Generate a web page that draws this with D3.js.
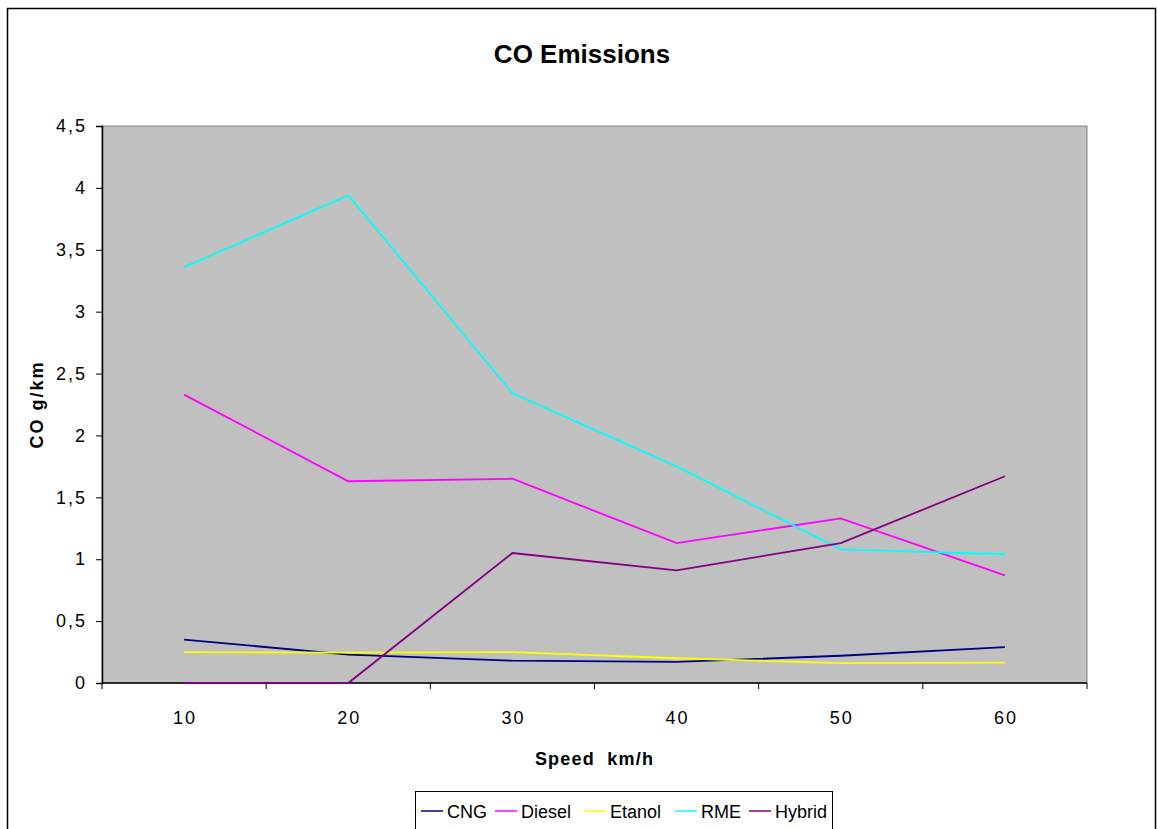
<!DOCTYPE html>
<html>
<head>
<meta charset="utf-8">
<script src="https://cdn.jsdelivr.net/npm/d3@7"></script>
<style>
  html, body { margin: 0; padding: 0; background: #fff; }
  svg { display: block; font-family: "Liberation Sans", Arial, sans-serif; }
</style>
</head>
<body>
<svg id="chart" width="1157" height="829"></svg>
<script>
// Speed categories (km/h)
const speeds = ["10", "20", "30", "40", "50", "60"];

// CO emissions per fuel, g/km
const cng    = [0.35, 0.23, 0.18, 0.17, 0.22, 0.29];
const diesel = [2.33, 1.63, 1.65, 1.13, 1.33, 0.87];
const etanol = [0.25, 0.245, 0.25, 0.20, 0.16, 0.165];
const rme    = [3.36, 3.94, 2.34, 1.75, 1.08, 1.04];
const hybrid = [0, 0, 1.05, 0.91, 1.13, 1.67];

const yTicks = [0, 0.5, 1, 1.5, 2, 2.5, 3, 3.5, 4, 4.5];

const series = [
  { name: "CNG",    values: cng,    color: "#000080" },
  { name: "Diesel", values: diesel, color: "#FF00FF" },
  { name: "Etanol", values: etanol, color: "#FFFF00" },
  { name: "RME",    values: rme,    color: "#00FFFF" },
  { name: "Hybrid", values: hybrid, color: "#800080" }
];

const svg = d3.select("#chart");
const plot = { left: 102, right: 1087, top: 126, bottom: 683 };

// Outer chart frame
svg.append("rect")
  .attr("x", 7.5).attr("y", 8.5)
  .attr("width", 1148).attr("height", 840)
  .attr("fill", "#fff").attr("stroke", "#000").attr("stroke-width", 1.5);

const x = d3.scaleBand().domain(speeds).range([plot.left, plot.right]);
const y = d3.scaleLinear().domain([0, 4.5]).range([plot.bottom, plot.top]);

// Plot area background
svg.append("rect")
  .attr("x", plot.left).attr("y", plot.top)
  .attr("width", plot.right - plot.left).attr("height", plot.bottom - plot.top)
  .attr("fill", "#C0C0C0").attr("stroke", "#808080").attr("stroke-width", 1);

// Y axis
const yAxis = svg.append("g")
  .attr("transform", `translate(${plot.left},0)`)
  .call(d3.axisLeft(y).tickValues(yTicks).tickSize(6).tickPadding(9)
    .tickFormat(d => d3.format("")(d).replace(".", ",")));
yAxis.select(".domain").attr("stroke", "#000").attr("stroke-width", 1.5);
yAxis.selectAll(".tick line").attr("stroke", "#000");
yAxis.selectAll(".tick text")
  .attr("font-size", 18).attr("fill", "#000")
  .attr("font-family", "Liberation Sans, Arial, sans-serif")
  .attr("letter-spacing", "2px");

// X axis with ticks on the category boundaries
const xAxis = svg.append("g")
  .attr("transform", `translate(0,${plot.bottom})`);
xAxis.append("line")
  .attr("x1", plot.left).attr("x2", plot.right)
  .attr("stroke", "#000").attr("stroke-width", 1.5);
const boundaries = speeds.map(s => x(s)).concat([x.range()[1]]);
xAxis.selectAll("line.tk").data(boundaries).join("line")
  .attr("class", "tk")
  .attr("x1", d => d).attr("x2", d => d)
  .attr("y1", 0).attr("y2", 6)
  .attr("stroke", "#000");
xAxis.selectAll("text").data(speeds).join("text")
  .attr("x", d => x(d) + x.bandwidth() / 2 + 1)
  .attr("y", 41)
  .attr("text-anchor", "middle")
  .attr("font-size", 18)
  .attr("letter-spacing", "2px")
  .attr("fill", "#000")
  .text(d => d);

// Series lines
const line = d3.line()
  .x((d, i) => x(speeds[i]) + x.bandwidth() / 2)
  .y(d => y(d));
svg.append("g").selectAll("path").data(series).join("path")
  .attr("d", d => line(d.values))
  .attr("fill", "none")
  .attr("stroke", d => d.color)
  .attr("stroke-width", 1.8);

// Titles
svg.append("text")
  .attr("x", 582).attr("y", 63)
  .attr("text-anchor", "middle")
  .attr("font-size", 26).attr("font-weight", "bold")
  .text("CO Emissions");

svg.append("text")
  .attr("x", (plot.left + plot.right) / 2).attr("y", 765)
  .attr("text-anchor", "middle")
  .attr("font-size", 18).attr("font-weight", "bold")
  .attr("letter-spacing", "1.2px")
  .attr("xml:space", "preserve")
  .style("white-space", "pre")
  .text("Speed  km/h");

svg.append("text")
  .attr("transform", `translate(43,${(plot.top + plot.bottom) / 2}) rotate(-90)`)
  .attr("text-anchor", "middle")
  .attr("font-size", 18).attr("font-weight", "bold")
  .attr("letter-spacing", "2px")
  .text("CO g/km");

// Legend
const legend = svg.append("g");
legend.append("rect")
  .attr("x", 415.5).attr("y", 791.5)
  .attr("width", 417).attr("height", 45)
  .attr("fill", "#fff").attr("stroke", "#000").attr("stroke-width", 1);
const legendX = [421, 495, 584, 675, 749];
const items = legend.selectAll("g.item").data(series).join("g")
  .attr("class", "item")
  .attr("transform", (d, i) => `translate(${legendX[i]},811)`);
items.append("line")
  .attr("x1", 0).attr("x2", 22)
  .attr("stroke", d => d.color).attr("stroke-width", 1.5);
items.append("text")
  .attr("x", 26).attr("y", 6.5)
  .attr("font-size", 18).attr("fill", "#000")
  .text(d => d.name);
</script>
</body>
</html>
